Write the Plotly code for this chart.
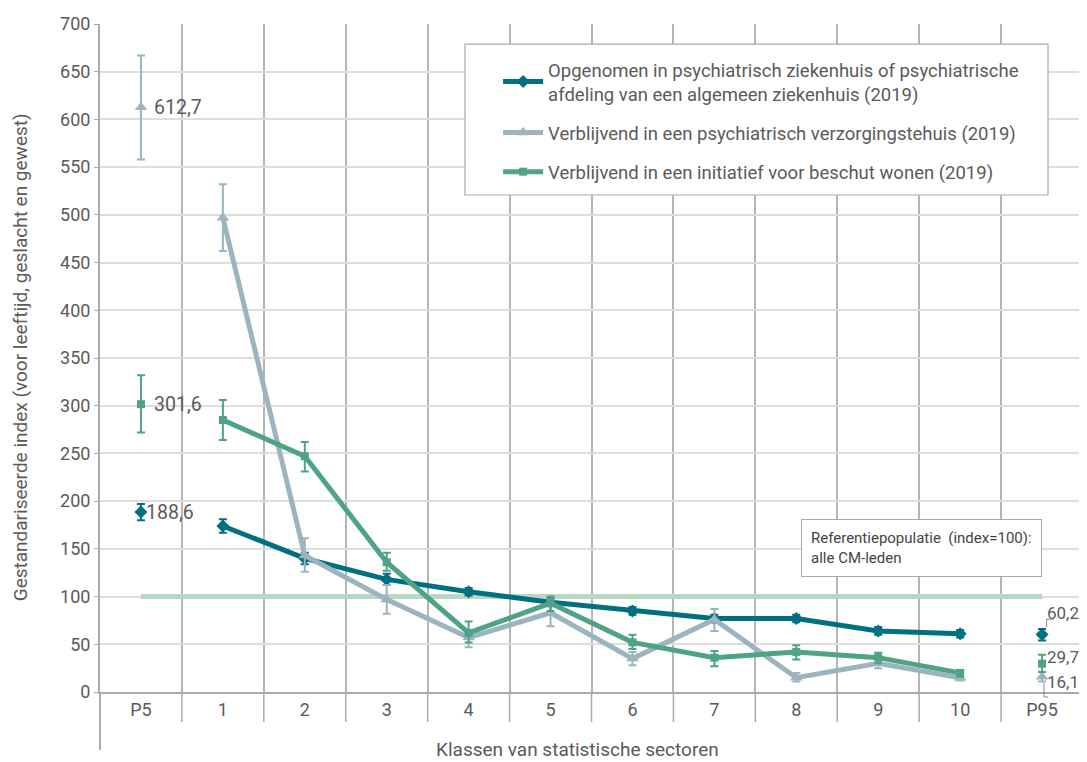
import plotly.graph_objects as go

categories = ["P5", "1", "2", "3", "4", "5", "6", "7", "8", "9", "10", "P95"]

hosp_name = "Opgenomen in psychiatrisch ziekenhuis of psychiatrische<br>afdeling van een algemeen ziekenhuis (2019)"
hosp_vals = [188.6, 174, 140, 118, 105, 94, 85, 77, 77, 64, 61, 60.2]
hosp_hi = [197, 181, 146, 124, 109, 98, 89, 81, 81, 68, 65, 66]
hosp_lo = [180, 167, 134, 112, 101, 90, 81, 73, 73, 60, 57, 54]

nurs_name = "Verblijvend in een psychiatrisch verzorgingstehuis (2019)"
nurs_vals = [612.7, 497, 143, 97, 57, 83, 35, 76, 15, 30, 15, 16.1]
nurs_hi = [667, 532, 161, 112, 64, 97, 42, 87, 20, 36, 19, 21]
nurs_lo = [558, 462, 126, 82, 47, 69, 28, 64, 11, 25, 12, 11]

shel_name = "Verblijvend in een initiatief voor beschut wonen (2019)"
shel_vals = [301.6, 285, 247, 136, 62, 93, 52, 36, 42, 36, 20, 29.7]
shel_hi = [332, 306, 262, 146, 74, 100, 60, 43, 49, 41, 23, 39]
shel_lo = [272, 264, 231, 127, 52, 85, 45, 27, 34, 30, 16, 21]

ref_value = 100
ref_text = "Referentiepopulatie  (index=100):<br>alle CM-leden"
x_title = "Klassen van statistische sectoren"
y_title = "Gestandariseerde index (voor leeftijd, geslacht en gewest)"

FONT = "Roboto, Liberation Sans Narrow, DejaVu Sans Condensed, sans-serif"
TXT = "#5a5a5a"

C_HOSP = "#006f80"
C_NURS = "#9cb4c0"
C_SHEL = "#4ea384"
C_REF = "#b8d8c5"

fig = go.Figure()

# reference line
fig.add_trace(go.Scatter(x=categories, y=[ref_value] * len(categories), mode="lines",
                         line=dict(color=C_REF, width=5), showlegend=False, hoverinfo="skip"))

series = [
    (hosp_name, hosp_vals, hosp_hi, hosp_lo, C_HOSP, "diamond", 10),
    (nurs_name, nurs_vals, nurs_hi, nurs_lo, C_NURS, "triangle-up", 11),
    (shel_name, shel_vals, shel_hi, shel_lo, C_SHEL, "square", 8),
]

for i, (name, vals, hi, lo, col, sym, msz) in enumerate(series):
    plus = [h - v for h, v in zip(hi, vals)]
    minus = [v - l for l, v in zip(lo, vals)]
    mid = slice(1, len(categories) - 1)
    fig.add_trace(go.Scatter(
        x=categories[mid], y=vals[mid], mode="lines+markers", name=name,
        legendgroup=f"g{i}",
        line=dict(color=col, width=5),
        marker=dict(symbol=sym, size=msz, color=col),
        error_y=dict(type="data", array=plus[mid], arrayminus=minus[mid],
                     color=col, thickness=2, width=4),
    ))
    ends = [0, len(categories) - 1]
    fig.add_trace(go.Scatter(
        x=[categories[k] for k in ends], y=[vals[k] for k in ends], mode="markers",
        legendgroup=f"g{i}", showlegend=False,
        marker=dict(symbol=sym, size=msz, color=col),
        error_y=dict(type="data", array=[plus[k] for k in ends],
                     arrayminus=[minus[k] for k in ends],
                     color=col, thickness=2, width=4),
    ))

def fmt(v):
    return f"{v:.1f}".replace(".", ",")

annotations = []
# P5 labels
for vals, xs in [(nurs_vals, 11), (shel_vals, 11), (hosp_vals, 3)]:
    annotations.append(dict(x=categories[0], y=vals[0], xref="x", yref="y", text=fmt(vals[0]),
                            showarrow=False, xanchor="left", yanchor="middle", xshift=xs,
                            font=dict(family=FONT, size=19.5, color=TXT)))
# P95 labels
for vals, ypos in [(hosp_vals, 83), (shel_vals, 37), (nurs_vals, 10.5)]:
    annotations.append(dict(x=categories[-1], y=ypos, xref="x", yref="y", text=fmt(vals[-1]),
                            showarrow=False, xanchor="left", yanchor="middle", xshift=3,
                            font=dict(family=FONT, size=17, color=TXT)))

annotations.append(dict(x=0.713, y=0.259, xref="paper", yref="paper", text=ref_text,
                        showarrow=False, xanchor="left", yanchor="top", align="left",
                        bgcolor="white", bordercolor="#aaaaaa", borderwidth=1, borderpad=9,
                        font=dict(family=FONT, size=15, color="#444444")))
annotations.append(dict(x=0.486, y=-0.0868, xref="paper", yref="paper",
                        text=x_title, showarrow=False,
                        xanchor="center", yanchor="middle",
                        font=dict(family=FONT, size=19, color=TXT)))
annotations.append(dict(x=-0.0814, y=0.501, xref="paper", yref="paper",
                        text=y_title,
                        showarrow=False, textangle=-90, xanchor="center", yanchor="middle",
                        font=dict(family=FONT, size=19, color=TXT)))

shapes = []
n = len(categories)
for k in range(1, n):
    shapes.append(dict(type="line", xref="paper", yref="paper", x0=k / n, x1=k / n,
                       y0=0, y1=-0.045, line=dict(color="#aaaaaa", width=1.5)))
shapes.append(dict(type="line", xref="paper", yref="paper", x0=0, x1=0, y0=0, y1=-0.0868,
                   line=dict(color="#aaaaaa", width=2)))
# legend frame
shapes.append(dict(type="rect", xref="paper", yref="paper", x0=0.3713, x1=0.9644,
                   y0=0.744, y1=0.970, layer="above", fillcolor="white",
                   line=dict(color="#aaaaaa", width=1.2)))
# leader lines at P95
shapes.append(dict(type="path", xref="paper", yref="paper",
                   path="M 0.970,0.109 L 0.963,0.109 L 0.963,0.097",
                   line=dict(color="#888888", width=1)))
shapes.append(dict(type="path", xref="paper", yref="paper",
                   path="M 0.9603,0.0135 L 0.9603,-0.0075 L 0.9645,-0.0075",
                   line=dict(color="#888888", width=1)))

fig.update_layout(
    width=1079, height=754,
    margin=dict(l=92, r=4, t=16, b=70),
    paper_bgcolor="white", plot_bgcolor="white",
    font=dict(family=FONT, size=17, color=TXT),
    showlegend=True,
    legend=dict(x=0.405, y=0.9596, xanchor="left", yanchor="top",
                bgcolor="rgba(0,0,0,0)", borderwidth=0,
                font=dict(family=FONT, size=18.5, color=TXT),
                tracegroupgap=12, itemwidth=40),
    annotations=annotations,
    shapes=shapes,
    xaxis=dict(type="category", categoryorder="array", categoryarray=categories,
               range=[-0.5, n - 0.5], tickson="boundaries", showgrid=True,
               gridcolor="#b5b5b5", gridwidth=1.5, ticks="", showline=True,
               linecolor="#aaaaaa", linewidth=2, mirror=False, zeroline=False,
               tickfont=dict(family=FONT, size=18, color=TXT)),
    yaxis=dict(range=[0, 700], dtick=50, showgrid=True, gridcolor="#dddddd", gridwidth=1.5,
               ticks="outside", ticklen=4, tickcolor="#aaaaaa", showline=True,
               linecolor="#aaaaaa", linewidth=2, zeroline=False,
               tickfont=dict(family=FONT, size=18, color=TXT)),
)

fig.write_html("out.html")
